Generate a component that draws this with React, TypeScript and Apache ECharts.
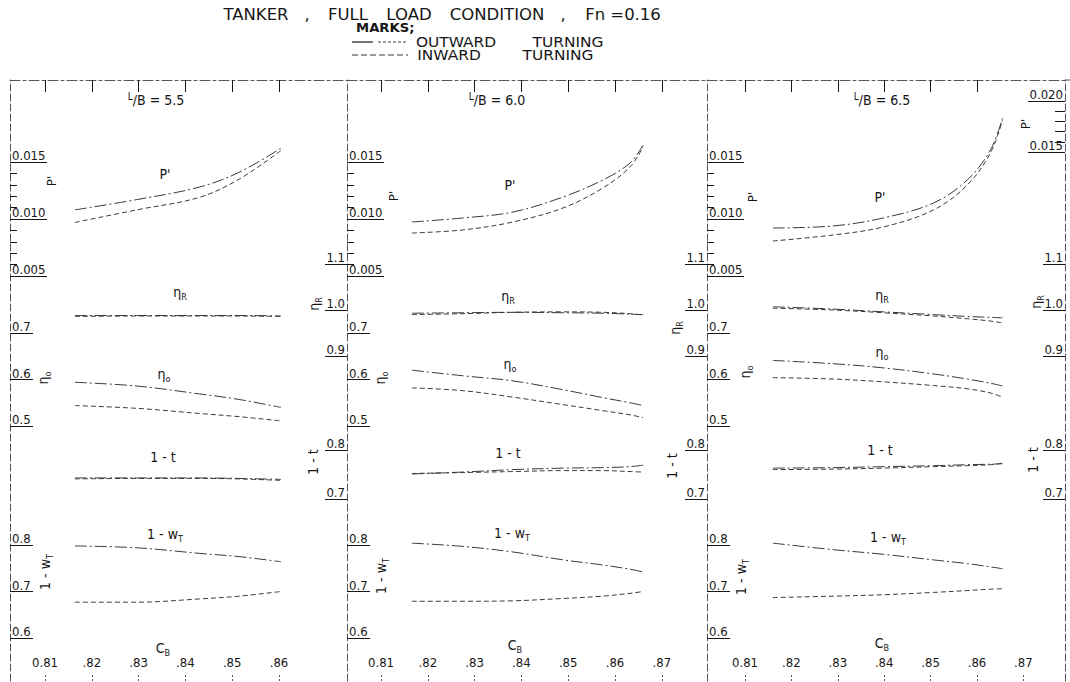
import React, { useEffect, useRef } from "react";
import * as echarts from "echarts";

// ---------------- data ----------------
const lbValues = ["5.5", "6.0", "6.5"];

const cbTicks = [0.81, 0.82, 0.83, 0.84, 0.85, 0.86, 0.87];
const cbTickLabels = ["0.81", ".82", ".83", ".84", ".85", ".86", ".87"];

const pMajor = [0.005, 0.01, 0.015];
const pMinor = [0.006, 0.007, 0.008, 0.009, 0.011, 0.012, 0.013, 0.014];
const pRightMajor = [0.015, 0.02];
const pRightMinor = [0.016, 0.017, 0.018, 0.019];
const etaRTicks = [0.9, 1.0, 1.1];
const etaOTicks = [0.5, 0.6, 0.7];
const tTicks = [0.7, 0.8];
const wTicks = [0.6, 0.7, 0.8];

// L/B = 5.5
const cb55 = [0.8164, 0.8296, 0.843, 0.8515, 0.8604];
const pOut55 = [0.0108, 0.0117, 0.0128, 0.0141, 0.0162];
const pIn55 = [0.0097, 0.0108, 0.0119, 0.0135, 0.016];
const etaROut55 = [0.988, 0.988, 0.988, 0.988, 0.987];
const etaRIn55 = [0.986, 0.987, 0.987, 0.987, 0.986];
const etaOOut55 = [0.594, 0.586, 0.569, 0.557, 0.54];
const etaOIn55 = [0.544, 0.538, 0.527, 0.52, 0.511];
const tOut55 = [0.743, 0.743, 0.743, 0.742, 0.74];
const tIn55 = [0.741, 0.742, 0.742, 0.741, 0.738];
const wOut55 = [0.798, 0.794, 0.782, 0.775, 0.764];
const wIn55 = [0.677, 0.677, 0.684, 0.69, 0.7];

// L/B = 6.0
const cb60 = [0.8166, 0.8275, 0.8382, 0.8489, 0.8574, 0.8632, 0.866];
const pOut60 = [0.00974, 0.01009, 0.01061, 0.01193, 0.01342, 0.01491, 0.01649];
const pIn60 = [0.00877, 0.00904, 0.00974, 0.01097, 0.01272, 0.01456, 0.01632];
const etaROut60 = [0.993, 0.994, 0.995, 0.994, 0.993, 0.991, 0.99];
const etaRIn60 = [0.99, 0.992, 0.995, 0.996, 0.995, 0.992, 0.989];
const etaOOut60 = [0.62, 0.608, 0.597, 0.578, 0.561, 0.55, 0.544];
const etaOIn60 = [0.582, 0.576, 0.562, 0.546, 0.533, 0.524, 0.518];
const tOut60 = [0.751, 0.755, 0.76, 0.763, 0.764, 0.766, 0.769];
const tIn60 = [0.752, 0.754, 0.756, 0.758, 0.758, 0.756, 0.755];
const wOut60 = [0.804, 0.797, 0.785, 0.768, 0.757, 0.748, 0.742];
const wIn60 = [0.679, 0.679, 0.68, 0.685, 0.69, 0.696, 0.7];

// L/B = 6.5
const cb65 = [0.816, 0.829, 0.8398, 0.8506, 0.8579, 0.8629, 0.8655];
const pOut65 = [0.00921, 0.00939, 0.01009, 0.0114, 0.01342, 0.01605, 0.01886];
const pIn65 = [0.00807, 0.0086, 0.0093, 0.01079, 0.01298, 0.01579, 0.01868];
const etaROut65 = [1.007, 1.002, 0.996, 0.99, 0.986, 0.984, 0.983];
const etaRIn65 = [1.004, 1.0, 0.994, 0.987, 0.981, 0.976, 0.972];
const etaOOut65 = [0.641, 0.634, 0.625, 0.612, 0.601, 0.592, 0.586];
const etaOIn65 = [0.604, 0.601, 0.595, 0.587, 0.58, 0.571, 0.562];
const tOut65 = [0.763, 0.764, 0.766, 0.768, 0.77, 0.771, 0.772];
const tIn65 = [0.76, 0.761, 0.763, 0.766, 0.768, 0.77, 0.773];
const wOut65 = [0.804, 0.79, 0.78, 0.768, 0.76, 0.753, 0.749];
const wIn65 = [0.687, 0.69, 0.693, 0.698, 0.702, 0.705, 0.706];

const panelData = [
  { cb: cb55, p: [pOut55, pIn55], etaR: [etaROut55, etaRIn55], etaO: [etaOOut55, etaOIn55], t: [tOut55, tIn55], w: [wOut55, wIn55] },
  { cb: cb60, p: [pOut60, pIn60], etaR: [etaROut60, etaRIn60], etaO: [etaOOut60, etaOIn60], t: [tOut60, tIn60], w: [wOut60, wIn60] },
  { cb: cb65, p: [pOut65, pIn65], etaR: [etaROut65, etaRIn65], etaO: [etaOOut65, etaOIn65], t: [tOut65, tIn65], w: [wOut65, wIn65] },
];

const titleWords = ["TANKER", ",", "FULL", "LOAD", "CONDITION", ",", "Fn =0.16"];
const legendMark = "MARKS;";
const legendOut = ["OUTWARD", "TURNING"];
const legendIn = ["INWARD", "TURNING"];

// ---------------- layout & style ----------------
const FONT = "'DejaVu Sans Condensed', 'Liberation Sans Narrow', 'DejaVu Sans', 'Liberation Sans', sans-serif";
const WIDE = "'DejaVu Sans', 'Liberation Sans', sans-serif";
const INK = "#161616";
const AX = "#555";
const CURVE = "#3a3a3a";
const OUT_DASH = [12, 3, 2, 3];
const IN_DASH = [5, 3];
const TOP = 80;
const BOTTOM = 681;

const frames = [
  { left: 10, right: 347, x81: 45, x86: 279, nBottom: 6, nTop: 6 },
  { left: 347, right: 707, x81: 381, x86: 615, nBottom: 7, nTop: 7 },
  { left: 707, right: 1065, x81: 745, x86: 977, nBottom: 7, nTop: 6 },
];

// value anchors -> pixel rows (value1, y1, value2, y2)
const yAnchors: Record<string, number[]> = {
  p: [0.015, 162, 0.01, 219],
  etaO: [0.7, 333, 0.5, 426],
  w: [0.8, 545, 0.6, 638],
  etaR: [1.1, 264, 0.9, 356],
  t: [0.8, 450, 0.7, 499],
  pR: [0.02, 101, 0.015, 152],
};

const labelPos = [
  { lb: [156, 100], P: [165, 174], R: [180, 292], O: [164, 374], t: [163, 457], w: [165, 534], cbName: [163, 648],
    rotP: [51, 181], rotO: [43, 378], rotW: [45, 572], rotR: [314, 304], rotT: [313, 462] },
  { lb: [497, 100], P: [510, 185], R: [508, 296], O: [510, 364], t: [508, 453], w: [512, 533], cbName: [515, 645],
    rotP: [393, 196], rotO: [380, 378], rotW: [381, 576], rotR: [675, 328], rotT: [672, 466] },
  { lb: [882, 100], P: [880, 197], R: [882, 295], O: [882, 352], t: [880, 450], w: [888, 537], cbName: [882, 643],
    rotP: [752, 197], rotO: [745, 372], rotW: [741, 577], rotR: [1036, 302], rotT: [1033, 460] },
];

const titleX = [256, 307, 348, 409, 497, 563, 623];
const TITLE_Y = 15;

function span(a1: number, p1: number, a2: number, p2: number, lo: number, hi: number) {
  const s = (p2 - p1) / (a2 - a1);
  return [a1 + (lo - p1) / s, a1 + (hi - p1) / s];
}

const rich = {
  m: { fontSize: 14, fontFamily: FONT, fill: INK, color: INK, lineHeight: 18 },
  s: { fontSize: 9, fontFamily: FONT, fill: INK, color: INK, verticalAlign: "bottom", lineHeight: 18 },
  u: { fontSize: 10, fontFamily: FONT, fill: INK, color: INK, verticalAlign: "top", lineHeight: 18 },
};

function txt(x: number, y: number, text: string, extra: any = {}) {
  return {
    type: "text",
    x,
    y,
    rotation: extra.rotation || 0,
    scaleX: extra.scaleX || 1,
    silent: true,
    style: {
      text,
      fill: INK,
      fontSize: extra.fontSize || 14,
      fontFamily: extra.fontFamily || FONT,
      fontWeight: extra.fontWeight || "normal",
      align: extra.align || "center",
      verticalAlign: "middle",
      rich,
    },
  };
}

function buildOption() {
  const grid: any[] = [];
  const xAxis: any[] = [];
  const yAxis: any[] = [];
  const series: any[] = [];
  const graphic: any[] = [];

  const labelFont = { color: INK, fontSize: 13, fontFamily: FONT };

  const mkY = (gi: number, position: string, key: string, ticks: number[], tickLen: number, showLabel: boolean, showLine: boolean, digits: number) => {
    const a = yAnchors[key];
    const [min, max] = span(a[0], a[1], a[2], a[3], BOTTOM, TOP);
    yAxis.push({
      type: "value",
      gridIndex: gi,
      position,
      min,
      max,
      splitLine: { show: false },
      axisLine: { show: showLine, onZero: false, lineStyle: { color: AX, width: 1, type: [7, 3] } },
      axisTick: { show: true, inside: true, length: tickLen, customValues: ticks, lineStyle: { color: INK, width: 1 } },
      axisLabel: {
        show: showLabel,
        inside: true,
        customValues: ticks,
        margin: 2,
        verticalAlign: "bottom",
        formatter: (v: number) => v.toFixed(digits),
        ...labelFont,
      },
    });
    return yAxis.length - 1;
  };

  frames.forEach((f, k) => {
    grid.push({ left: f.left, top: TOP, width: f.right - f.left, height: BOTTOM - TOP });
    const [xmin, xmax] = span(0.81, f.x81, 0.86, f.x86, f.left, f.right);
    const bottomTicks = cbTicks.slice(0, f.nBottom);
    const topTicks = cbTicks.slice(0, f.nTop);
    xAxis.push({
      type: "value",
      gridIndex: k,
      position: "bottom",
      min: xmin,
      max: xmax,
      splitLine: { show: false },
      axisLine: { show: false, onZero: false },
      axisTick: { show: true, inside: true, length: 8, customValues: bottomTicks, lineStyle: { color: AX, type: [2, 2] } },
      axisLabel: {
        show: true,
        inside: true,
        margin: 12,
        customValues: bottomTicks,
        formatter: (v: number) => {
          const i = cbTicks.findIndex((c) => Math.abs(c - v) < 1e-6);
          return i >= 0 ? cbTickLabels[i] : "";
        },
        ...labelFont,
      },
    });
    const xBottomIdx = xAxis.length - 1;
    xAxis.push({
      type: "value",
      gridIndex: k,
      position: "top",
      min: xmin,
      max: xmax,
      splitLine: { show: false },
      axisLine: { show: true, onZero: false, lineStyle: { color: AX, width: 1, type: [10, 3, 3, 3] } },
      axisTick: { show: true, inside: true, length: 12, customValues: topTicks, lineStyle: { color: INK } },
      axisLabel: { show: false },
    });

    const iP = mkY(k, "left", "p", pMajor, 37, true, true, 3);
    mkY(k, "left", "p", pMinor, 7, false, false, 3);
    const iO = mkY(k, "left", "etaO", etaOTicks, 23, true, false, 1);
    const iW = mkY(k, "left", "w", wTicks, 23, true, false, 1);
    const iR = mkY(k, "right", "etaR", etaRTicks, 22, true, k === 2, 1);
    const iT = mkY(k, "right", "t", tTicks, 22, true, false, 1);
    if (k === 2) {
      mkY(k, "right", "pR", pRightMajor, 37, true, false, 3);
      mkY(k, "right", "pR", pRightMinor, 10, false, false, 3);
    }

    const d = panelData[k];
    const addPair = (vals: number[][], yi: number) => {
      vals.forEach((arr, j) => {
        series.push({
          type: "line",
          xAxisIndex: xBottomIdx,
          yAxisIndex: yi,
          data: d.cb.map((c, i) => [c, arr[i]]),
          smooth: 0.35,
          symbol: "none",
          silent: true,
          lineStyle: { color: CURVE, width: 1, type: j === 0 ? OUT_DASH : IN_DASH },
        });
      });
    };
    addPair(d.p, iP);
    addPair(d.etaR, iR);
    addPair(d.etaO, iO);
    addPair(d.t, iT);
    addPair(d.w, iW);

    // texts
    const lp = labelPos[k];
    const rot = Math.PI / 2;
    graphic.push(txt(lp.lb[0], lp.lb[1], `{u|L}{m|/B = ${lbValues[k]}}`));
    graphic.push(txt(lp.P[0], lp.P[1], "P'", { fontSize: 14 }));
    graphic.push(txt(lp.R[0], lp.R[1], "{m|η}{s|R}"));
    graphic.push(txt(lp.O[0], lp.O[1], "{m|η}{s|o}"));
    graphic.push(txt(lp.t[0], lp.t[1], "1 - t", { fontSize: 14 }));
    graphic.push(txt(lp.w[0], lp.w[1], "{m|1 - w}{s|T}"));
    graphic.push(txt(lp.cbName[0], lp.cbName[1], "{m|C}{s|B}"));
    graphic.push(txt(lp.rotP[0], lp.rotP[1], "P'", { rotation: rot, fontSize: 13 }));
    graphic.push(txt(lp.rotO[0], lp.rotO[1], "{m|η}{s|o}", { rotation: rot }));
    graphic.push(txt(lp.rotW[0], lp.rotW[1], "{m|1 - w}{s|T}", { rotation: rot }));
    graphic.push(txt(lp.rotR[0], lp.rotR[1], "{m|η}{s|R}", { rotation: rot }));
    graphic.push(txt(lp.rotT[0], lp.rotT[1], "1 - t", { rotation: rot, fontSize: 14 }));
  });
  graphic.push(txt(1025, 124, "P'", { rotation: Math.PI / 2, fontSize: 13 }));

  // title
  titleWords.forEach((w, i) => {
    graphic.push(txt(titleX[i], TITLE_Y, w, { fontSize: 15, fontFamily: WIDE, scaleX: 1.1 }));
  });
  // legend
  graphic.push(txt(356, 28, legendMark, { fontSize: 12, fontWeight: "bold", align: "left", fontFamily: WIDE, scaleX: 1.1 }));
  graphic.push({ type: "line", silent: true, shape: { x1: 352, y1: 42, x2: 373, y2: 42 }, style: { stroke: INK, lineWidth: 1.2 } });
  graphic.push({ type: "line", silent: true, shape: { x1: 378, y1: 42, x2: 408, y2: 42 }, style: { stroke: CURVE, lineWidth: 1, lineDash: [3, 2] } });
  graphic.push(txt(456, 42, legendOut[0], { fontSize: 14, fontFamily: WIDE, scaleX: 1.1 }));
  graphic.push(txt(568, 42, legendOut[1], { fontSize: 14, fontFamily: WIDE, scaleX: 1.1 }));
  graphic.push({ type: "line", silent: true, shape: { x1: 352, y1: 55, x2: 408, y2: 55 }, style: { stroke: CURVE, lineWidth: 1, lineDash: [6, 3] } });
  graphic.push(txt(449, 55, legendIn[0], { fontSize: 14, fontFamily: WIDE, scaleX: 1.1 }));
  graphic.push(txt(558, 55, legendIn[1], { fontSize: 14, fontFamily: WIDE, scaleX: 1.1 }));
  graphic.push({ type: "line", silent: true, shape: { x1: 1065, y1: TOP, x2: 1070, y2: TOP }, style: { stroke: AX, lineWidth: 1 } });

  return {
    animation: false,
    backgroundColor: "#ffffff",
    grid,
    xAxis,
    yAxis,
    series,
    graphic,
  };
}

export default function App() {
  const ref = useRef<HTMLDivElement>(null);
  useEffect(() => {
    if (!ref.current) return;
    const chart = echarts.init(ref.current, null, { renderer: "svg", width: 1070, height: 682 });
    chart.setOption(buildOption() as any);
    return () => chart.dispose();
  }, []);
  return (
    <div
      ref={ref}
      style={{ position: "absolute", left: 0, top: 0, width: 1070, height: 682, background: "#fff" }}
    />
  );
}
